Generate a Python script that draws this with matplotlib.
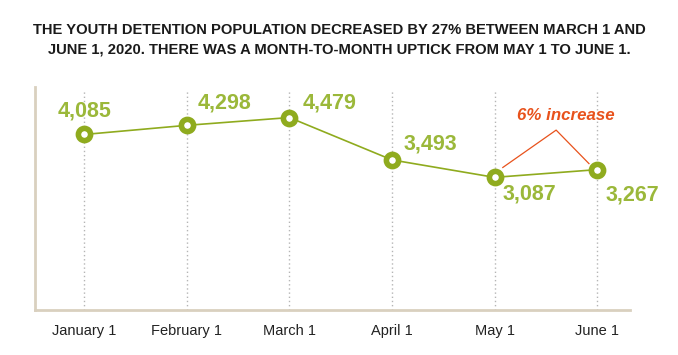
import matplotlib.pyplot as plt

months = ["January 1", "February 1", "March 1", "April 1", "May 1", "June 1"]
population = [4085, 4298, 4479, 3493, 3087, 3267]
value_labels = ["4,085", "4,298", "4,479", "3,493", "3,087", "3,267"]
# label offsets in pixels (dx, dy) from each point
offsets = [(0, 23), (38, 22), (40, 15), (38, 16), (35, -17), (35, -25)]

green = "#8fab1e"
label_green = "#9bb83a"
orange = "#e8521c"

plt.rcParams['font.family'] = ['Liberation Sans', 'DejaVu Sans']

fig = plt.figure(figsize=(6.78, 3.55), dpi=100)
ax = fig.add_axes([35 / 678, 1 - 310 / 355, (630 - 35) / 678, (310 - 87) / 355])

x = list(range(len(months)))
ax.set_xlim(-0.48, 5.32)
ax.set_ylim(0, 5190)

for xi in x:
    ax.plot([xi, xi], [0, 5100], color="#b5b5b5", lw=1, ls=(0, (1, 2)), zorder=1)

ax.plot(x, population, color=green, lw=1.2, zorder=2)
ax.plot(x, population, "o", ms=8.8, mfc="white", mec=green, mew=4.0, zorder=3)

for xi, yi, lab, (dx, dy) in zip(x, population, value_labels, offsets):
    ax.annotate(lab, (xi, yi), xytext=(dx * 0.72, dy * 0.72), textcoords="offset points",
                ha="center", va="center", fontsize=15.5, fontweight="bold", color=label_green)

# bracket for the May -> June increase
apex = (4.6, population[4] + 1100)
ax.plot([4.08, apex[0], 4.92], [population[4] + 230, apex[1], population[5] + 140],
        color=orange, lw=0.9, zorder=2)
ax.text(4.69, population[4] + 1450, "6% increase", ha="center", va="center",
        fontsize=12.2, fontweight="bold", style="italic", color=orange)

for side in ["top", "right"]:
    ax.spines[side].set_visible(False)
for side in ["left", "bottom"]:
    ax.spines[side].set_color("#d9d0bf")
    ax.spines[side].set_linewidth(2)

ax.set_yticks([])
ax.set_xticks(x)
ax.set_xticklabels(months, fontsize=10.5, color="#222222")
ax.tick_params(axis="x", length=0, pad=10)

fig.text(0.5, 1 - 30 / 355, "THE YOUTH DETENTION POPULATION DECREASED BY 27% BETWEEN MARCH 1 AND",
         ha="center", va="center", fontsize=10.6, fontweight="bold", color="#1a1a1a")
fig.text(0.5, 1 - 50 / 355, "JUNE 1, 2020. THERE WAS A MONTH-TO-MONTH UPTICK FROM MAY 1 TO JUNE 1.",
         ha="center", va="center", fontsize=10.6, fontweight="bold", color="#1a1a1a")

fig.savefig("out.png", dpi=100)
